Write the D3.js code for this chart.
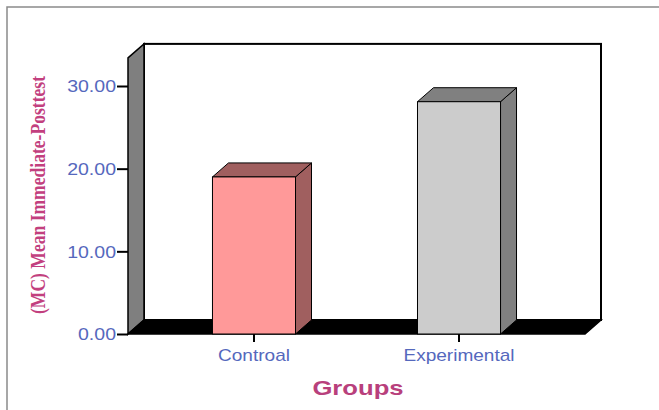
<!DOCTYPE html>
<html>
<head>
<meta charset="utf-8">
<script src="https://cdn.jsdelivr.net/npm/d3@7"></script>
<style>
  body { margin: 0; background: #fff; }
  svg { display: block; }
</style>
</head>
<body>
<script>
// data
var groups = ["Controal", "Experimental"];
var means = [19.0, 28.1];
var tickValues = [0, 10, 20, 30];
var frontColors = ["#ff9999", "#cccccc"];
var sideColors = ["#a05f5f", "#808080"];

var W = 659, H = 410;
var dx = 16, dy = -14;       // depth of the 3d box
var x0 = 128, x1 = 585;      // front floor edge
var yBottom = 334;
var yMax = 33.4;

var svg = d3.select("body").append("svg")
    .attr("width", W)
    .attr("height", H);

// the picture looks stretched sideways, so widen texts a bit
function widen(sel, k) {
    sel.each(function () {
        var len = this.getComputedTextLength();
        d3.select(this).attr("textLength", len * k).attr("lengthAdjust", "spacingAndGlyphs");
    });
}

// outer frame
svg.append("rect")
    .attr("x", 7).attr("y", 7)
    .attr("width", W + 10).attr("height", H + 10)
    .attr("fill", "#fff")
    .attr("stroke", "#8a8a8a")
    .attr("stroke-width", 1.5);

var y = d3.scaleLinear().domain([0, 30]).range([yBottom, 86]);
var x = d3.scaleBand().domain(groups).range([x0, x1])
    .paddingInner(0.595).paddingOuter(0.412);

function pts(a) { return a.map(p => p.join(",")).join(" "); }

// back wall
svg.append("rect")
    .attr("x", x0 + dx).attr("y", y(yMax) + dy)
    .attr("width", x1 - x0).attr("height", yBottom - y(yMax))
    .attr("fill", "#fff")
    .attr("stroke", "#000")
    .attr("stroke-width", 2);

// left wall
svg.append("polygon")
    .attr("points", pts([[x0, y(yMax)], [x0 + dx, y(yMax) + dy], [x0 + dx, yBottom + dy], [x0, yBottom]]))
    .attr("fill", "#7f7f7f")
    .attr("stroke", "#000")
    .attr("stroke-width", 1.5);

// floor
svg.append("polygon")
    .attr("points", pts([[x0, yBottom], [x0 + dx, yBottom + dy], [x1 + dx, yBottom + dy], [x1, yBottom]]))
    .attr("fill", "#000")
    .attr("stroke", "#000")
    .attr("stroke-width", 1.5);

// bars
groups.forEach(function (g, i) {
    var bx = x(g), bw = x.bandwidth(), by = y(means[i]);
    var bar = svg.append("g");
    bar.append("polygon")
        .attr("points", pts([[bx + bw, by], [bx + bw + dx, by + dy], [bx + bw + dx, yBottom + dy], [bx + bw, yBottom]]))
        .attr("fill", sideColors[i]).attr("stroke", "#000").attr("stroke-width", 1);
    bar.append("polygon")
        .attr("points", pts([[bx, by], [bx + dx, by + dy], [bx + bw + dx, by + dy], [bx + bw, by]]))
        .attr("fill", sideColors[i]).attr("stroke", "#000").attr("stroke-width", 1);
    bar.append("rect")
        .attr("x", bx).attr("y", by)
        .attr("width", bw).attr("height", yBottom - by)
        .attr("fill", frontColors[i]).attr("stroke", "#000").attr("stroke-width", 1);
});

// y axis
var yAxis = svg.append("g")
    .attr("transform", "translate(" + x0 + ",0)")
    .call(d3.axisLeft(y).tickValues(tickValues).tickSize(11).tickPadding(1).tickFormat(d3.format(".2f")));
yAxis.select(".domain").remove();
yAxis.selectAll(".tick line").attr("stroke", "#000").attr("stroke-width", 2);
yAxis.selectAll(".tick text")
    .attr("fill", "#5568bd")
    .attr("dy", "0.36em")
    .style("font-family", "Liberation Sans, Arial, sans-serif")
    .style("font-size", "16px")
    .call(widen, 1.22);

// x axis
var xAxis = svg.append("g")
    .attr("transform", "translate(0," + yBottom + ")")
    .call(d3.axisBottom(x).tickSize(8).tickPadding(7));
xAxis.select(".domain").remove();
xAxis.selectAll(".tick line").attr("stroke", "#000").attr("stroke-width", 2);
xAxis.selectAll(".tick text")
    .attr("fill", "#5568bd")
    .style("font-family", "Liberation Sans, Arial, sans-serif")
    .style("font-size", "17px")
    .call(widen, 1.12);

// axis titles
svg.append("text")
    .attr("x", 358).attr("y", 395)
    .attr("text-anchor", "middle")
    .attr("fill", "#b8407c")
    .style("font-family", "Liberation Sans, Arial, sans-serif")
    .style("font-weight", "bold")
    .style("font-size", "21px")
    .text("Groups")
    .call(widen, 1.22);

svg.append("text")
    .attr("transform", "translate(45,195) rotate(-90)")
    .attr("text-anchor", "middle")
    .attr("fill", "#c2407e")
    .attr("textLength", 238)
    .attr("lengthAdjust", "spacingAndGlyphs")
    .style("font-family", "Liberation Serif, Times New Roman, serif")
    .style("font-weight", "bold")
    .style("font-size", "21px")
    .text("(MC) Mean Immediate-Posttest");
</script>
</body>
</html>
